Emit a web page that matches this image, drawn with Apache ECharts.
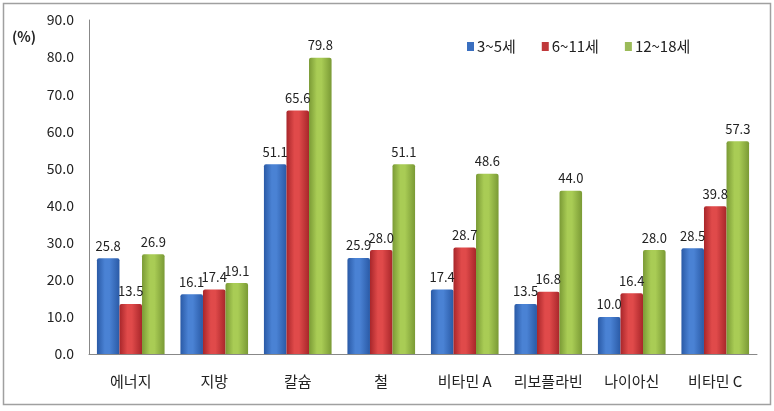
<!DOCTYPE html>
<html><head><meta charset="utf-8">
<script src="https://cdn.jsdelivr.net/npm/echarts@6/dist/echarts.min.js"></script>
<style>html,body{margin:0;padding:0;background:#fff}#c{width:774px;height:411px}</style>
</head><body><div id="c"></div>
<script>
const categories = ['에너지','지방','칼슘','철','비타민 A','리보플라빈','나이아신','비타민 C'];
const seriesNames = ['3~5세','6~11세','12~18세'];
const age3to5 = [25.8,16.1,51.1,25.9,17.4,13.5,10.0,28.5];
const age6to11 = [13.5,17.4,65.6,28.0,28.7,16.8,16.4,39.8];
const age12to18 = [26.9,19.1,79.8,51.1,48.6,44.0,28.0,57.3];
const yTicks = [0,10,20,30,40,50,60,70,80,90];

const font = '"Noto Sans CJK KR", "Noto Sans", sans-serif';
function grad(edge, mid){
  return new echarts.graphic.LinearGradient(0,0,1,0,[
    {offset:0,color:edge},{offset:0.35,color:mid},{offset:0.55,color:mid},{offset:1,color:edge}]);
}
const colors = [
  {edge:'#2a5aa6', mid:'#4a82d4', legend:'#3a6fc0'},
  {edge:'#a8262a', mid:'#e04a4a', legend:'#c0393b'},
  {edge:'#7a9a35', mid:'#a9cc55', legend:'#9bbb59'}
];
const datas = [age3to5, age6to11, age12to18];
const chart = echarts.init(document.getElementById('c'), null, {renderer:'canvas'});
chart.setOption({
  animation:false,
  textStyle:{fontFamily:font},
  graphic:[
    {type:'rect', shape:{x:3.5,y:3.5,width:767,height:401}, style:{fill:'none',stroke:'#a0a0a0',lineWidth:1.5}, silent:true},
    {type:'text', left:12, top:30, style:{text:'(%)', font:'bold 14px '+font, fill:'#222'}}
  ],
  legend:{
    top:34, left:462, itemWidth:7, itemHeight:9, itemGap:26,
    textStyle:{fontSize:15, color:'#222', fontFamily:font, padding:[0,0,0,-2]},
    data: seriesNames.map((n,i)=>({name:n, icon:'rect', itemStyle:{color:colors[i].legend}}))
  },
  grid:{left:89, right:17, top:20, bottom:57},
  xAxis:{
    type:'category', data:categories,
    axisLine:{lineStyle:{color:'#888'}}, axisTick:{show:false},
    axisLabel:{fontSize:15, color:'#222', margin:20, interval:0}
  },
  yAxis:{
    type:'value', min:0, max:90, interval:10,
    axisLine:{show:true, lineStyle:{color:'#888'}}, axisTick:{show:false},
    splitLine:{show:false},
    axisLabel:{fontSize:14, color:'#222', margin:15, formatter:v=>v.toFixed(1)}
  },
  series: seriesNames.map((n,i)=>({
    name:n, type:'bar', data:datas[i], barGap:'0%', barCategoryGap:'19%',
    itemStyle:{color:grad(colors[i].edge, colors[i].mid), borderRadius:[2,2,0,0]},
    label:{show:true, position:'top', distance:6, fontSize:13, color:'#222', formatter:p=>p.value.toFixed(1)}
  }))
});
</script></body></html>
